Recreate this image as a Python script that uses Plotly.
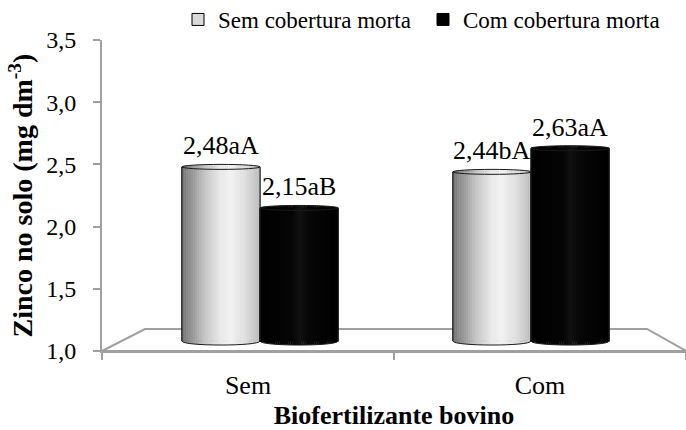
import numpy as np
import plotly.graph_objects as go

# ---- data -------------------------------------------------------------
categories = ["Sem", "Com"]
series_names = ["Sem cobertura morta", "Com cobertura morta"]
zinc_sem_cobertura = [2.48, 2.44]
zinc_com_cobertura = [2.15, 2.63]
labels_sem_cobertura = ["2,48aA", "2,44bA"]
labels_com_cobertura = ["2,15aB", "2,63aA"]
y_ticks = [1.0, 1.5, 2.0, 2.5, 3.0, 3.5]

# ---- style ------------------------------------------------------------
FONT = "Liberation Serif"
AXIS_GRAY = "#a0a0a0"
W, H = 686, 430
ML, MR, MT, MB = 102, 0, 40, 79
PW, PH = W - ML - MR, H - MT - MB

BASE = 1.08          # floor level (mid depth) where the cylinders stand
BAR_W = 0.288        # width of one cylinder in category units
E_TOP = 0.02         # half height of the top ellipse
E_BOT = 0.032        # depth of the bottom arc
N_STRIPS = 36


def px(x):
    return (x - ML) / PW


def py(y):
    return (H - MB - y) / PH


def gray(v):
    c = int(round(255 * v))
    return f"rgb({c},{c},{c})"


light_profile = ([0.0, 0.1, 0.3, 0.5, 0.62, 0.8, 1.0],
                 [0.45, 0.56, 0.78, 0.92, 0.95, 0.88, 0.74])
dark_profile = ([0.0, 0.4, 0.52, 0.62, 1.0],
                [0.0, 0.02, 0.07, 0.03, 0.0])

series = [
    dict(name=series_names[0], values=zinc_sem_cobertura, labels=labels_sem_cobertura,
         offset=-BAR_W, legend_color="#d9d9d9", profile=light_profile),
    dict(name=series_names[1], values=zinc_com_cobertura, labels=labels_com_cobertura,
         offset=0.0, legend_color="#000000", profile=dark_profile),
]

xpos = list(range(len(categories)))
fig = go.Figure()
shapes = []
annotations = []

# floor of the 3-D plot area
shapes.append(dict(type="path", xref="paper", yref="paper", layer="below",
                   path=f"M 0,0 L {px(145)},{py(329)} L {px(647)},{py(329)} L 1,0 Z",
                   line=dict(color=AXIS_GRAY, width=2), fillcolor="white"))

for s in series:
    vals = np.array(s["values"])
    # series bar (carries the legend entry)
    fig.add_trace(go.Bar(x=xpos, y=vals - BASE, base=BASE, width=BAR_W, offset=s["offset"],
                         name=s["name"], marker=dict(color=s["legend_color"],
                                                     line=dict(color="black", width=1)),
                         hoverinfo="skip"))
    # cylinder shading strips
    for i in range(N_STRIPS):
        t = (i + 0.5) / N_STRIPS
        arc = np.sqrt(max(0.0, 1 - (2 * t - 1) ** 2))
        bottom = BASE - E_BOT * arc
        top = vals + E_TOP * arc
        fig.add_trace(go.Bar(x=xpos, y=top - bottom, base=bottom,
                             width=BAR_W / N_STRIPS * 1.15,
                             offset=s["offset"] + i * BAR_W / N_STRIPS,
                             marker=dict(color=gray(np.interp(t, *s["profile"])),
                                         line=dict(width=0)),
                             showlegend=False, hoverinfo="skip"))
    # outlines, top ellipse and value labels
    for xc, v, lab in zip(xpos, vals, s["labels"]):
        x0 = xc + s["offset"]
        x1 = x0 + BAR_W
        k = E_BOT * 4 / 3
        shapes.append(dict(type="path", xref="x", yref="y",
                           path=f"M {x0},{v} L {x0},{BASE} C {x0},{BASE - k} {x1},{BASE - k} {x1},{BASE} L {x1},{v}",
                           line=dict(color="#1a1a1a", width=1)))
        shapes.append(dict(type="circle", xref="x", yref="y", x0=x0, x1=x1,
                           y0=v - E_TOP, y1=v + E_TOP,
                           line=dict(color="#1a1a1a", width=1), fillcolor="rgba(0,0,0,0)"))
        annotations.append(dict(x=(x0 + x1) / 2, y=v, xref="x", yref="y", text=lab,
                                showarrow=False, yanchor="middle", yshift=21,
                                font=dict(family=FONT, size=26, color="black")))

# helper trace so the front category axis is rendered
fig.add_trace(go.Scatter(x=[0.5, 1.5], y=[1.5, 1.5], xaxis="x2", yaxis="y",
                         mode="markers", marker=dict(opacity=0),
                         showlegend=False, hoverinfo="skip"))

fig.update_layout(
    width=W, height=H,
    margin=dict(l=ML, r=MR, t=MT, b=MB, autoexpand=False),
    paper_bgcolor="white", plot_bgcolor="white",
    separators=",.",
    barmode="overlay",
    font=dict(family=FONT, color="black"),
    showlegend=True,
    legend=dict(orientation="h", x=px(178), y=1 + (MT + 2) / PH, xanchor="left", yanchor="top",
                font=dict(family=FONT, size=23, color="black"),
                entrywidth=200, entrywidthmode="pixels",
                bgcolor="rgba(0,0,0,0)", traceorder="normal"),
    xaxis=dict(domain=[0, 1], range=[-0.583, 1.572], visible=False, fixedrange=True,
               automargin=False),
    xaxis2=dict(overlaying="x", anchor="y", side="bottom", range=[0, 2], automargin=False,
                tickmode="array", tickvals=[0.5, 1.5], ticktext=categories, ticks="",
                minor=dict(tick0=0, dtick=1, ticks="outside", ticklen=7, tickwidth=2,
                           tickcolor=AXIS_GRAY, showgrid=False),
                ticklabelstandoff=10,
                tickfont=dict(family=FONT, size=26, color="black"),
                showline=True, linecolor=AXIS_GRAY, linewidth=2,
                showgrid=False, zeroline=False,
                title=dict(text="<b>Biofertilizante bovino</b>", standoff=17,
                           font=dict(family=FONT, size=26, color="black"))),
    yaxis=dict(range=[1, 3.5], tickmode="array", tickvals=y_ticks, tickformat=".1f",
               automargin=False,
               ticks="outside", ticklen=7, tickwidth=2, tickcolor=AXIS_GRAY,
               ticklabelstandoff=12,
               tickfont=dict(family=FONT, size=24, color="black"),
               showline=True, linecolor=AXIS_GRAY, linewidth=2,
               showgrid=False, zeroline=False,
               title=dict(text="<b>Zinco no solo (mg dm<sup>-3</sup>)</b>", standoff=5,
                          font=dict(family=FONT, size=28, color="black"))),
    shapes=shapes,
    annotations=annotations,
)

fig.write_html("out.html")
